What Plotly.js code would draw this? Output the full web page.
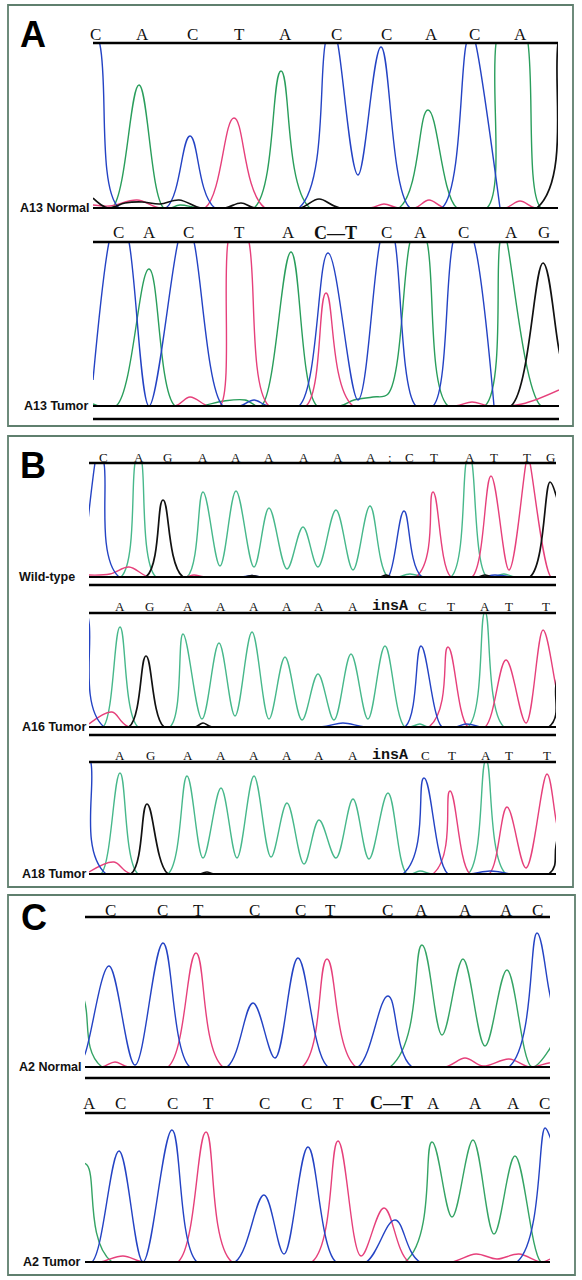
<!DOCTYPE html>
<html><head><meta charset="utf-8">
<script src="https://cdn.plot.ly/plotly-3.0.1.min.js"></script>
<style>html,body{margin:0;padding:0;background:#fff}#chart{width:582px;height:1280px}</style>
</head><body><div id="chart"></div>
<script>
// ---------- Panel A : A13 Normal ----------
const a1Bases = ['C','A','C','T','A','C','C','A','C','A'];
const a1BasePos = [96,142,192,239,285,336,386,431,474,520];
const a1BlueX = [84,100,119,166,190,215,299,325,331,338,358,381,410,442,466,471,476,500];
const a1BlueY = [215,163,0,0,72,0,0,163,195,163,33,161,0,0,163,180,163,0];
const a1GreenX = [93,112,139,164,180,200,254,281,310,399,428,457,487,496,512,528,541,558];
const a1GreenY = [0,0,123,0,3,0,0,137,0,0,98,0,0,165,250,165,0,0];
const a1RedX = [93,110,137,160,205,234,265,370,384,398,415,429,445,505,520,535,558];
const a1RedY = [3,2,8,0,0,90,0,0,4,0,0,8,0,0,7,0,0];
const a1BlackX = [93,108,125,142,160,179,201,225,241,255,300,319,340,537,558,566];
const a1BlackY = [10,0,5,6,4,8,0,0,5,0,0,9,0,0,165,230];

// ---------- Panel A : A13 Tumor ----------
const a2Bases = ['C','A','C','T','A','C\u2014T','C','A','C','A','G'];
const a2BasePos = [119,149,188,239,288,335,386,420,463,511,544];
const a2BlueX = [93,109,119,129,149,178,186,194,223,240,254,268,299,328,358,380,388,395,416,433,453,463,474,494];
const a2BlueY = [26,164,200,164,0,164,190,164,0,0,6,0,0,153,6,164,190,164,0,0,164,190,164,0];
const a2GreenX = [93,116,149,175,200,224,245,261,291,317,340,354,373,388,410,418,427,448,485,500,504,507,541,559];
const a2GreenY = [2,0,137,0,0,5,6,0,154,0,0,6,9,12,164,185,164,0,0,164,175,164,0,0];
const a2RedX = [93,175,190,208,220,228,238,249,269,306,326,353,455,472,490,522,559];
const a2RedY = [0,0,9,0,0,164,200,164,0,0,113,0,0,4,0,2,16];
const a2BlackX = [93,480,511,543,559,570];
const a2BlackY = [0,0,0,143,56,0];

// ---------- Panel B : Wild-type ----------
const b1Bases = ['C','A','G','A','A','A','A','A','A',':','C','T','A','T','T','G'];
const b1BasePos = [103,139,167,203,236,269,304,338,371,390,409,434,470,494,527,550];
const b1BlueX = [84,95,99,104,119,240,252,262,380,388,404,422,480,495,510];
const b1BlueY = [20,114,135,114,0,0,1.5,0,0,0,66,0,0,2,0];
const b1GreenX = [89,121,135,139,142,156,187,203,220,236,254,269,287,303,318,336,353,370,388,410,425,451,466,469,472,487,504,515,556];
const b1GreenY = [0,0,114,130,114,0,0,85,11,86,10,69,8,50,10,67,7,71,0,3,0,0,114,125,114,0,3,0,0];
const b1BlackX = [89,146,163,183,245,252,260,380,386,392,478,485,492,530,550,556,562];
const b1BlackY = [0,0,77,0,0,1.5,0,0,2,0,0,2,0,0,95,82,50];
const b1RedX = [89,110,129,149,185,194,205,416,433,451,472,491,509,526,528,530,551,556];
const b1RedY = [2,3,10,0,0,2,0,0,85,0,0,101,7,114,122,114,0,0];

// ---------- Panel B : A16 Tumor ----------
const b2Bases = ['A','G','A','A','A','A','A','A','insA','C','T','A','T','T'];
const b2BasePos = [120,149,188,221,254,287,319,353,390,422,451,485,509,546];
const b2BlueX = [84,89,104,320,343,365,405,421,442,455,466,480];
const b2BlueY = [135,105,0,0,4,0,0,81,0,0,3,0];
const b2GreenX = [89,103,120,138,170,183,202,219,235,252,269,285,302,318,334,351,368,385,405,420,428,468,485,504,556];
const b2GreenY = [0,0,100,0,0,93,8,84,11,95,8,70,7,53,7,73,8,81,0,3,0,0,115,0,0];
const b2BlackX = [89,129,146,164,195,203,212,549,556,562];
const b2BlackY = [0,0,71,0,0,4,0,0,42,90];
const b2RedX = [89,112,129,429,448,468,485,506,526,543,556,562];
const b2RedY = [3,15,0,0,80,0,0,67,4,97,40,10];

// ---------- Panel B : A18 Tumor ----------
const b3Bases = ['A','G','A','A','A','A','A','A','insA','C','T','A','T','T'];
const b3BasePos = [120,150,188,221,254,287,319,353,390,425,452,486,509,547];
const b3BlueX = [84,91,106,403,424,448,470,490,510];
const b3BlueY = [140,111,0,0,96,0,0,3,0];
const b3GreenX = [89,101,120,138,168,187,203,221,237,254,271,287,304,319,336,353,369,388,407,420,432,468,486,506,556];
const b3GreenY = [0,0,101,0,0,98,16,86,16,98,17,71,10,54,16,75,15,81,0,3,0,0,114,0,0];
const b3BlackX = [89,131,147,168,200,207,214,549,556,562];
const b3BlackY = [0,0,70,0,0,2,0,0,28,80];
const b3RedX = [89,114,131,433,450,470,489,507,526,547,556,562];
const b3RedY = [2,12,0,0,83,0,0,67,6,100,54,20];

// ---------- Panel C : A2 Normal ----------
const c1Bases = ['C','C','T','C','C','T','C','A','A','A','C'];
const c1BasePos = [110,162,198,254,300,330,387,421,465,506,537];
const c1BlueX = [78,85,109,135,163,190,227,253,275,298,328,358,388,412,509,537,549,556];
const c1BlueY = [0,13,101,2,124,0,0,64,9,109,0,0,71,0,0,134,77,40];
const c1GreenX = [76,85,102,390,422,442,463,485,507,532,549,556];
const c1GreenY = [100,64,0,0,122,32,108,21,97,0,17,35];
const c1RedX = [85,102,115,128,168,196,223,302,327,356,445,465,483,509,530,549,556];
const c1RedY = [0,0,5,0,0,114,0,0,108,0,0,9,1,8,0,4,4];

// ---------- Panel C : A2 Tumor ----------
const c2Bases = ['A','C','C','T','C','C','T','C\u2014T','A','A','A','C'];
const c2BasePos = [89,120,172,208,264,306,338,391,433,475,513,544];
const c2BlueX = [80,92,119,143,172,197,235,264,284,308,336,366,395,420,517,545,550,556];
const c2BlueY = [0,0,111,0,132,0,0,67,8,115,0,0,42,0,0,134,125,100];
const c2GreenX = [78,87,112,405,432,452,473,494,515,541,550];
const c2GreenY = [100,97,0,0,120,45,122,28,106,0,0];
const c2RedX = [85,100,123,143,178,206,232,312,338,361,384,409,451,476,497,519,541,550];
const c2RedY = [0,0,6,0,0,130,0,0,121,6,54,0,0,8,3,8,0,3];

// ---------- styling / layout ----------
const W = 582, H = 1280;
const BLUE = '#2443c4', RED = '#e6407b', BLACK = '#111111';
const GREEN_A = '#2a9e5c', GREEN_B = '#47b88b', GREEN_C = '#35a465';
const SERIF = 'Liberation Serif, Times New Roman, serif';
const MONO = 'Liberation Mono, Courier New, monospace';
const SANS = 'Liberation Sans, Arial, sans-serif';

const rows = [
  {label:'A13 Normal', labelX:91, x0:93, x1:558, top:43, base:208, extra:null, bases:a1Bases, pos:a1BasePos, baseY:34, fs:17,
   ch:[[a1GreenX,a1GreenY,GREEN_A],[a1RedX,a1RedY,RED],[a1BlueX,a1BlueY,BLUE],[a1BlackX,a1BlackY,BLACK]]},
  {label:'A13 Tumor', labelX:90, x0:93, x1:559, top:242, base:406, extra:419, bases:a2Bases, pos:a2BasePos, baseY:233, fs:17,
   ch:[[a2GreenX,a2GreenY,GREEN_A],[a2RedX,a2RedY,RED],[a2BlueX,a2BlueY,BLUE],[a2BlackX,a2BlackY,BLACK]]},
  {label:'Wild-type', labelX:77, x0:89, x1:556, top:463, base:577, extra:585, bases:b1Bases, pos:b1BasePos, baseY:457, fs:13,
   ch:[[b1GreenX,b1GreenY,GREEN_B],[b1RedX,b1RedY,RED],[b1BlueX,b1BlueY,BLUE],[b1BlackX,b1BlackY,BLACK]]},
  {label:'A16 Tumor', labelX:88, x0:89, x1:556, top:613, base:727, extra:735, bases:b2Bases, pos:b2BasePos, baseY:606, fs:13,
   ch:[[b2GreenX,b2GreenY,GREEN_B],[b2RedX,b2RedY,RED],[b2BlueX,b2BlueY,BLUE],[b2BlackX,b2BlackY,BLACK]]},
  {label:'A18 Tumor', labelX:88, x0:89, x1:556, top:762, base:874, extra:null, bases:b3Bases, pos:b3BasePos, baseY:755, fs:13,
   ch:[[b3GreenX,b3GreenY,GREEN_B],[b3RedX,b3RedY,RED],[b3BlueX,b3BlueY,BLUE],[b3BlackX,b3BlackY,BLACK]]},
  {label:'A2 Normal', labelX:84, x0:85, x1:550, top:917, base:1067, extra:1078, bases:c1Bases, pos:c1BasePos, baseY:910, fs:17,
   ch:[[c1GreenX,c1GreenY,GREEN_C],[c1RedX,c1RedY,RED],[c1BlueX,c1BlueY,BLUE]]},
  {label:'A2 Tumor', labelX:83, x0:85, x1:550, top:1113, base:1262, extra:null, bases:c2Bases, pos:c2BasePos, baseY:1103, fs:17,
   ch:[[c2GreenX,c2GreenY,GREEN_C],[c2RedX,c2RedY,RED],[c2BlueX,c2BlueY,BLUE]]}
];

const panels = [
  {letter:'A', x0:8, y0:5, x1:573, y1:426, lx:33, ly:34},
  {letter:'B', x0:8, y0:436, x1:573, y1:887, lx:33, ly:465},
  {letter:'C', x0:8, y0:895, x1:575, y1:1275, lx:34, ly:917}
];

const fx = v => v / W;
const fy = v => 1 - v / H;

const traces = [], shapes = [], annotations = [];
const layout = {
  width: W, height: H, margin: {l:0, r:0, t:0, b:0},
  paper_bgcolor: '#ffffff', plot_bgcolor: 'rgba(0,0,0,0)', showlegend: false
};

panels.forEach(p => {
  shapes.push({type:'rect', xref:'paper', yref:'paper', x0:fx(p.x0), x1:fx(p.x1), y0:fy(p.y1), y1:fy(p.y0),
    line:{color:'#5f7f6e', width:1.8}, fillcolor:'rgba(0,0,0,0)', layer:'below'});
  annotations.push({xref:'paper', yref:'paper', x:fx(p.lx), y:fy(p.ly), text:'<b>'+p.letter+'</b>', showarrow:false,
    xanchor:'center', yanchor:'middle', font:{family:SANS, size:36, color:'#000'}});
});

rows.forEach((r, i) => {
  const n = i + 1;
  const xa = n === 1 ? 'xaxis' : 'xaxis' + n, ya = n === 1 ? 'yaxis' : 'yaxis' + n;
  const xr = n === 1 ? 'x' : 'x' + n, yr = n === 1 ? 'y' : 'y' + n;
  layout[xa] = {domain:[fx(r.x0), fx(r.x1)], range:[r.x0, r.x1], visible:false, fixedrange:true, anchor:yr};
  layout[ya] = {domain:[fy(r.base), fy(r.top)], range:[0, r.base - r.top], visible:false, fixedrange:true, anchor:xr};
  r.ch.forEach(c => {
    traces.push({type:'scatter', mode:'lines', x:c[0], y:c[1], xaxis:xr, yaxis:yr, hoverinfo:'skip',
      line:{color:c[2], width:c[2] === BLACK ? 1.7 : 1.4, shape:'spline', smoothing:1, simplify:false}});
  });
  const ln = (y, w) => shapes.push({type:'line', xref:'paper', yref:'paper', x0:fx(r.x0), x1:fx(r.x1), y0:fy(y), y1:fy(y),
    line:{color:'#000', width:w}, layer:'above'});
  ln(r.top, 2.4);
  ln(r.base, 2.2);
  if (r.extra !== null) ln(r.extra, 2.6);
  r.bases.forEach((b, k) => {
    let fam = SERIF, size = r.fs, txt = b;
    if (b === 'insA') { fam = MONO; size = 15; txt = '<b>insA</b>'; }
    else if (b.length > 1) { size = 18; txt = '<b>' + b + '</b>'; }
    annotations.push({xref:xr, yref:'paper', x:r.pos[k], y:fy(r.baseY), text:txt, showarrow:false,
      xanchor:'center', yanchor:'middle', font:{family:fam, size:size, color:'#111'}});
  });
  annotations.push({xref:'paper', yref:'paper', x:fx(r.labelX), y:fy(r.base), text:'<b>' + r.label + '</b>', showarrow:false,
    xanchor:'right', yanchor:'middle', font:{family:SANS, size:12.5, color:'#111'}});
});

layout.shapes = shapes;
layout.annotations = annotations;
Plotly.newPlot('chart', traces, layout, {staticPlot:true, displayModeBar:false});
</script></body></html>
